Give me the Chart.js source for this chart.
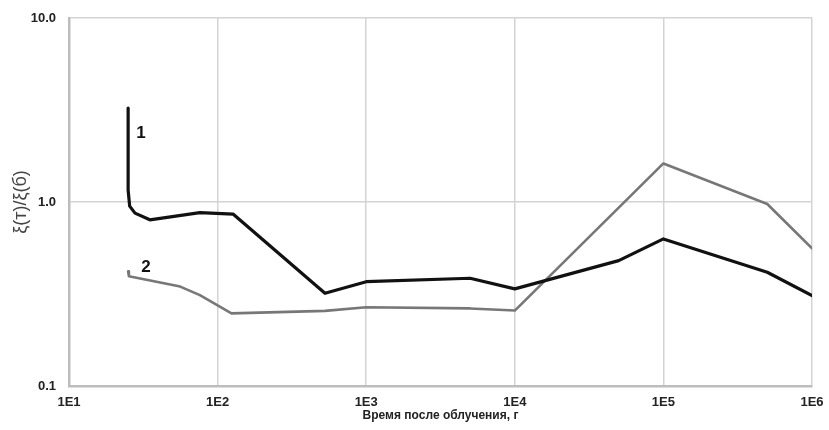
<!DOCTYPE html>
<html>
<head>
<meta charset="utf-8">
<script src="https://cdn.jsdelivr.net/npm/chart.js@4"></script>
<style>
  html, body { margin: 0; padding: 0; background: #fff; }
  #wrap { width: 829px; height: 430px; }
</style>
</head>
<body>
<div id="wrap"><canvas id="chart" width="829" height="430"></canvas></div>
<script>
// time after irradiation (log axis) and ratio values
const xTicks = [1e1, 1e2, 1e3, 1e4, 1e5, 1e6];
const yTicks = [0.1, 1, 10];

const time1 = [25, 25, 25.6, 27.8, 35, 76, 127, 528, 1000, 5000, 10000, 50000, 100000, 500000, 1000000];
const ratio1 = [3.24, 1.16, 0.95, 0.87, 0.80, 0.875, 0.86, 0.319, 0.369, 0.385, 0.337, 0.48, 0.63, 0.415, 0.31];

const time2 = [25, 25.3, 56, 76, 124, 528, 1000, 5000, 10000, 100000, 500000, 1000000];
const ratio2 = [0.42, 0.395, 0.347, 0.312, 0.248, 0.256, 0.268, 0.264, 0.257, 1.62, 0.975, 0.56];

// curve numbers written next to the lines
const curveLabels = ['1', '2'];
const labelTime = [30.5, 33];
const labelRatio = [2.37, 0.44];

const toPoints = (xs, ys) => xs.map((x, i) => ({ x: x, y: ys[i] }));

const curveNumbers = {
	id: 'curveNumbers',
	afterDatasetsDraw(chart) {
		const { ctx, scales } = chart;
		ctx.save();
		ctx.font = 'bold 17px "Liberation Sans", Arial, sans-serif';
		ctx.fillStyle = '#111';
		ctx.textAlign = 'center';
		ctx.textBaseline = 'middle';
		curveLabels.forEach((t, i) => {
			ctx.fillText(t, scales.x.getPixelForValue(labelTime[i]), scales.y.getPixelForValue(labelRatio[i]));
		});
		ctx.restore();
	}
};

const tickFont = { family: '"Liberation Sans", Arial, sans-serif', size: 13, weight: 'bold' };

new Chart(document.getElementById('chart'), {
	type: 'line',
	data: {
		datasets: [
			{
				label: '1',
				data: toPoints(time1, ratio1),
				borderColor: '#111111',
				borderWidth: 3.2,
				pointRadius: 0,
				tension: 0,
				borderJoinStyle: 'round',
				borderCapStyle: 'round'
			},
			{
				label: '2',
				data: toPoints(time2, ratio2),
				borderColor: '#777777',
				borderWidth: 2.6,
				pointRadius: 0,
				tension: 0,
				borderJoinStyle: 'round',
				borderCapStyle: 'round'
			}
		]
	},
	options: {
		responsive: false,
		animation: false,
		layout: { padding: { left: 0, top: 18, right: 17, bottom: 0 } },
		plugins: { legend: { display: false }, tooltip: { enabled: false } },
		scales: {
			x: {
				type: 'logarithmic',
				min: 10,
				max: 1e6,
				afterBuildTicks: (s) => { s.ticks = xTicks.map(v => ({ value: v })); },
				afterFit: (s) => { s.height = 44; s.paddingLeft = 0; s.paddingRight = 0; },
				grid: { color: '#d4d4d4', lineWidth: 1.5, drawTicks: false },
				border: { color: '#bdbdbd', width: 2.5 },
				ticks: {
					color: '#222',
					font: tickFont,
					padding: 9,
					maxRotation: 0,
					autoSkip: false,
					callback: (v) => '1E' + Math.round(Math.log10(v))
				},
				title: {
					display: true,
					text: 'Время после облучения, г',
					color: '#222',
					font: { family: '"Liberation Sans", Arial, sans-serif', size: 12, weight: 'bold' },
					padding: { top: 2, bottom: 7 }
				}
			},
			y: {
				type: 'logarithmic',
				min: 0.1,
				max: 10,
				afterBuildTicks: (s) => { s.ticks = yTicks.map(v => ({ value: v })); },
				afterFit: (s) => { s.width = 69; s.paddingTop = 0; s.paddingBottom = 0; },
				grid: { color: '#d4d4d4', lineWidth: 1.5, drawTicks: false },
				border: { color: '#bdbdbd', width: 2.5 },
				ticks: {
					color: '#222',
					font: tickFont,
					padding: 13,
					autoSkip: false,
					callback: (v) => Number(v).toFixed(1)
				},
				title: {
					display: true,
					text: 'ξ(т)/ξ(б)',
					color: '#444',
					font: { family: '"Liberation Sans", Arial, sans-serif', size: 18 },
					padding: { top: 10, bottom: 4 }
				}
			}
		}
	},
	plugins: [curveNumbers]
});
</script>
</body>
</html>
